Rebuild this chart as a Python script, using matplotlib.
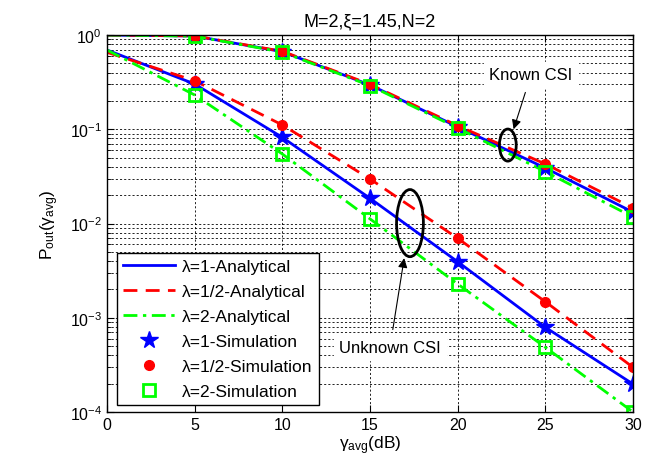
import numpy as np
import matplotlib
matplotlib.use("Agg")
import matplotlib.pyplot as plt
from matplotlib.patches import Ellipse
from matplotlib.ticker import LogLocator, NullFormatter

plt.rcParams['font.family'] = ['Liberation Sans', 'DejaVu Sans']
plt.rcParams['mathtext.fontset'] = 'custom'
plt.rcParams['mathtext.rm'] = 'Liberation Sans'
plt.rcParams['mathtext.it'] = 'Liberation Sans:italic'
plt.rcParams['mathtext.bf'] = 'Liberation Sans:bold'

# ---- data ----
snr_db = [0, 5, 10, 15, 20, 25, 30]
snr_sim = [5, 10, 15, 20, 25, 30]

# Known CSI
known_l1 = [1.0, 0.975, 0.665, 0.295, 0.106, 0.0388, 0.0132]
known_lhalf = [1.0, 0.978, 0.672, 0.300, 0.109, 0.0428, 0.0146]
known_l2 = [1.0, 0.972, 0.658, 0.290, 0.103, 0.0355, 0.0117]

# Unknown CSI
unk_l1 = [0.693, 0.302, 0.082, 0.0185, 0.00393, 0.000792, 0.000198]
unk_lhalf = [0.655, 0.327, 0.111, 0.0297, 0.00697, 0.00148, 0.000298]
unk_l2 = [0.693, 0.231, 0.0546, 0.0112, 0.00228, 0.000486, 0.000100]

labels = ['λ=1-Analytical', 'λ=1/2-Analytical', 'λ=2-Analytical',
          'λ=1-Simulation', 'λ=1/2-Simulation', 'λ=2-Simulation']

fig = plt.figure(figsize=(6.59, 4.64), dpi=100)
ax = fig.add_axes([107/659, 1 - 413/464, 526/659, 377/464])

blue = '#0000ff'
red = '#ff0000'
green = '#00ff00'
lw = 2.0

h1, = ax.plot(snr_db, known_l1, '-', color=blue, lw=lw)
h2, = ax.plot(snr_db, known_lhalf, color=red, lw=lw, dashes=(5, 3))
h3, = ax.plot(snr_db, known_l2, color=green, lw=lw, dashes=(5, 2, 1.2, 2))
ax.plot(snr_db, unk_l1, '-', color=blue, lw=lw)
ax.plot(snr_db, unk_lhalf, color=red, lw=lw, dashes=(5, 3))
ax.plot(snr_db, unk_l2, color=green, lw=lw, dashes=(5, 2, 1.2, 2))

h4, = ax.plot(snr_sim, known_l1[1:], linestyle='none', marker='*', ms=13, color=blue, mec=blue)
ax.plot(snr_sim, unk_l1[1:], linestyle='none', marker='*', ms=13, color=blue, mec=blue)
h5, = ax.plot(snr_sim, known_lhalf[1:], linestyle='none', marker='o', ms=7, color=red, mec=red)
ax.plot(snr_sim, unk_lhalf[1:], linestyle='none', marker='o', ms=7, color=red, mec=red)
h6, = ax.plot(snr_sim, known_l2[1:], linestyle='none', marker='s', ms=8, mfc='none', mec=green, mew=2)
ax.plot(snr_sim, unk_l2[1:], linestyle='none', marker='s', ms=8, mfc='none', mec=green, mew=2)

ax.set_yscale('log')
ax.set_xlim(0, 30)
ax.set_ylim(1e-4, 1)
ax.set_xticks([0, 5, 10, 15, 20, 25, 30])
ax.yaxis.set_major_locator(LogLocator(base=10, numticks=10))
ax.yaxis.set_minor_locator(LogLocator(base=10, subs=np.arange(2, 10), numticks=10))
ax.yaxis.set_minor_formatter(NullFormatter())

grid_kw = dict(color='black', linestyle=(0, (2.5, 2.5)), linewidth=0.6)
ax.grid(True, which='major', axis='both', **grid_kw)
ax.grid(True, which='minor', axis='y', **grid_kw)
ax.set_axisbelow(True)

ax.tick_params(which='both', direction='in', top=True, right=True, labelsize=11.5)
ax.tick_params(which='major', length=5)
ax.tick_params(which='minor', length=3)
for s in ax.spines.values():
    s.set_linewidth(1.0)

ax.set_xlabel(r'$\mathrm{\gamma_{avg}}$(dB)', fontsize=12.5, labelpad=1)
ax.set_ylabel(r'P$_{\mathrm{out}}$($\mathrm{\gamma_{avg}}$)', fontsize=12.5, labelpad=6)
ax.set_title('M=2,ξ=1.45,N=2', fontsize=13, pad=7)

leg = ax.legend([h1, h2, h3, h4, h5, h6], labels, loc='lower left',
                bbox_to_anchor=(0.019, 0.019), borderaxespad=0, fontsize=12.5,
                fancybox=False, framealpha=1, edgecolor='black', handlelength=3.0,
                labelspacing=0.56, borderpad=0.35, handletextpad=0.4)
leg.get_frame().set_linewidth(1.0)

# annotations
ax.add_patch(Ellipse((0.762, 0.708), 0.032, 0.085, transform=ax.transAxes,
                     fill=False, edgecolor='black', lw=2, zorder=5))
ax.add_patch(Ellipse((0.576, 0.501), 0.051, 0.178, transform=ax.transAxes,
                     fill=False, edgecolor='black', lw=2, zorder=5))

ax.annotate('Known CSI', xy=(0.773, 0.750), xycoords='axes fraction',
            xytext=(0.806, 0.894), textcoords='axes fraction', ha='center', va='center',
            fontsize=12, backgroundcolor='white',
            arrowprops=dict(arrowstyle='-|>', color='black', lw=0.8, mutation_scale=14,
                            shrinkA=3, shrinkB=0))
ax.annotate('Unknown CSI', xy=(0.565, 0.408), xycoords='axes fraction',
            xytext=(0.538, 0.172), textcoords='axes fraction', ha='center', va='center',
            fontsize=12, backgroundcolor='white',
            arrowprops=dict(arrowstyle='-|>', color='black', lw=0.8, mutation_scale=14,
                            shrinkA=3, shrinkB=0))

fig.savefig('out.png', dpi=100)
